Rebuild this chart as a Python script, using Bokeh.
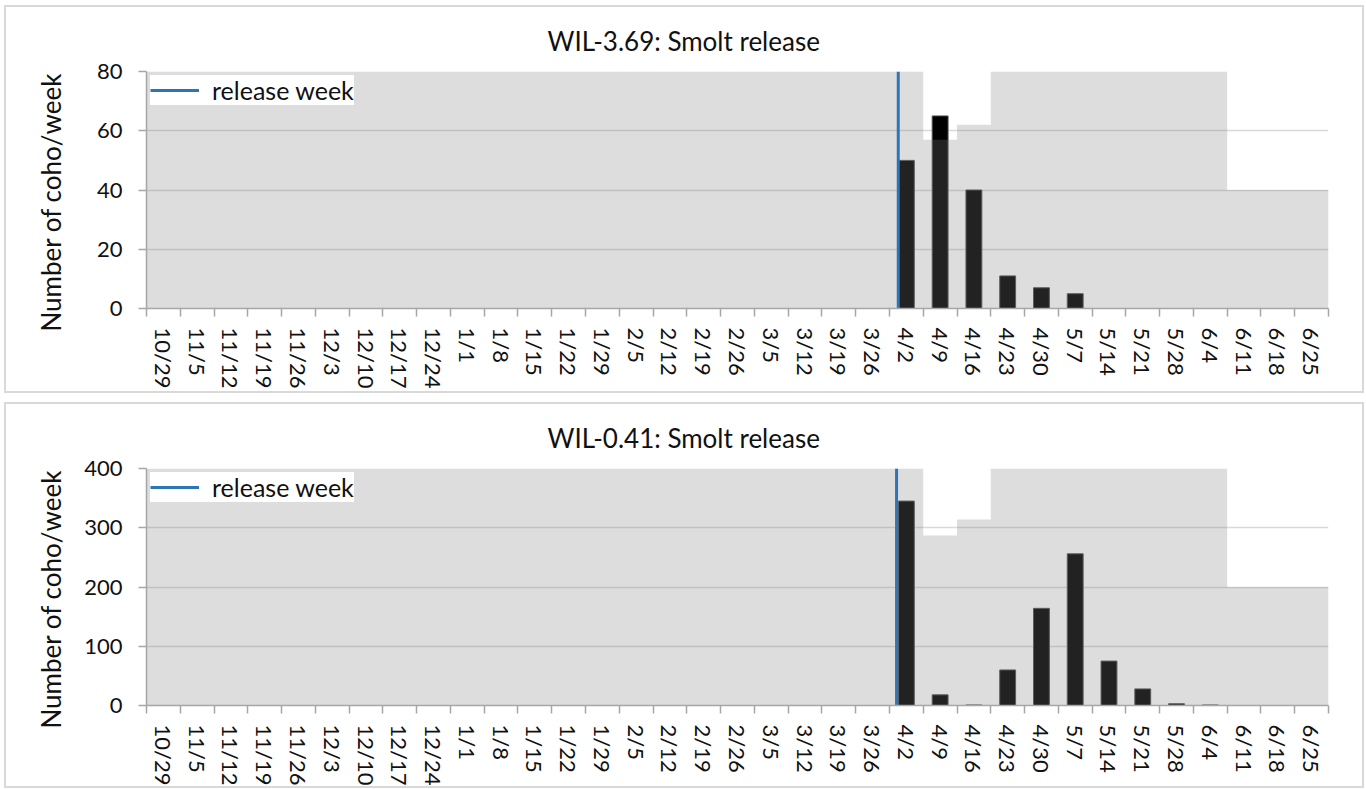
import numpy as np
from bokeh.plotting import figure
from bokeh.models import (Range1d, LinearAxis, FixedTicker, Legend, LegendItem,
                          Title, ColumnDataSource)
from bokeh.layouts import column
from bokeh.embed import file_html
from bokeh.resources import INLINE

# ---------------- data ----------------
weeks = ["10/29", "11/5", "11/12", "11/19", "11/26", "12/3", "12/10", "12/17",
         "12/24", "1/1", "1/8", "1/15", "1/22", "1/29", "2/5", "2/12", "2/19",
         "2/26", "3/5", "3/12", "3/19", "3/26", "4/2", "4/9", "4/16", "4/23",
         "4/30", "5/7", "5/14", "5/21", "5/28", "6/4", "6/11", "6/18", "6/25"]

release_week = "4/2"

top_title = "WIL-3.69: Smolt release"
top_counts = [0, 0, 0, 0, 0, 0, 0, 0, 0, 0, 0, 0, 0, 0, 0, 0, 0, 0, 0, 0, 0, 0,
              50, 65, 40, 11, 7, 5, 0, 0, 0, 0, 0, 0, 0]
top_effort = [80, 80, 80, 80, 80, 80, 80, 80, 80, 80, 80, 80, 80, 80, 80, 80,
              80, 80, 80, 80, 80, 80, 80, 57, 62, 80, 80, 80, 80, 80, 80, 80,
              40, 40, 40]
top_yticks = [0, 20, 40, 60, 80]

bot_title = "WIL-0.41: Smolt release"
bot_counts = [0, 0, 0, 0, 0, 0, 0, 0, 0, 0, 0, 0, 0, 0, 0, 0, 0, 0, 0, 0, 0, 0,
              345, 18, 1, 60, 164, 256, 75, 28, 3, 1, 0, 0, 0]
bot_effort = [400, 400, 400, 400, 400, 400, 400, 400, 400, 400, 400, 400, 400,
              400, 400, 400, 400, 400, 400, 400, 400, 400, 400, 287, 314, 400,
              400, 400, 400, 400, 400, 400, 200, 200, 200]
bot_yticks = [0, 100, 200, 300, 400]

y_label = "Number of coho/week"
legend_label = "release week"

# ---------------- style ----------------
FONT = "Lato"
TXT = "#111111"
AX = "#a6a6a6"
FS = "22px"


def make_panel(title, counts, effort, yticks, rel_shift, height, mb_top,
               mb_bottom, ylab_standoff):
    n = len(weeks)
    ymax = yticks[-1]
    centers = np.arange(n) + 0.5
    src = ColumnDataSource(dict(x=centers, week=weeks, count=counts))

    p = figure(width=1360, height=height, x_range=Range1d(0, n),
               y_range=Range1d(0, ymax), x_axis_type=None,
               output_backend="svg", toolbar_location=None,
               min_border_left=140, min_border_right=38,
               min_border_top=mb_top, min_border_bottom=mb_bottom,
               background_fill_color="white", border_fill_color="white",
               outline_line_color=None)
    p.styles = {"border": "2px solid #d9d9d9", "overflow": "hidden"}

    # counts
    p.vbar(x="x", top="count", bottom=0, width=0.47, source=src,
           fill_color="#000000", line_color="#505050", line_width=1)

    # trapping-effort overlay (semi-transparent grey)
    edges = np.arange(n + 1)
    p.varea_step(x=edges, y1=np.zeros(n + 1), y2=list(effort) + [effort[-1]],
                 step_mode="after", fill_color="#7f7f7f", fill_alpha=0.267)

    # release week line
    rx = weeks.index(release_week) + 0.5 + rel_shift
    rl = p.line(x=[rx, rx], y=[0, ymax], line_color="#2e75b6", line_width=3)

    # y axis
    ya = p.yaxis[0]
    ya.ticker = FixedTicker(ticks=yticks)
    ya.major_label_text_font = FONT
    ya.major_label_text_font_size = FS
    ya.major_label_text_color = TXT
    ya.axis_line_color = AX
    ya.axis_line_width = 1.5
    ya.major_tick_line_color = AX
    ya.major_tick_line_width = 1.5
    ya.major_tick_out = 8
    ya.major_tick_in = 0
    ya.minor_tick_line_color = None
    ya.major_label_standoff = 16
    p.ygrid.ticker = FixedTicker(ticks=yticks)
    p.ygrid.grid_line_color = "#d9d9d9"
    p.ygrid.grid_line_width = 1.3

    # x axis: ticks at category boundaries
    axa = LinearAxis(ticker=FixedTicker(ticks=list(range(n + 1))),
                     major_label_overrides={i: "" for i in range(n + 1)},
                     major_label_text_font_size="0px",
                     major_label_standoff=0,
                     axis_line_color=AX, axis_line_width=1.5,
                     major_tick_line_color=AX, major_tick_line_width=1.5,
                     major_tick_out=8, major_tick_in=0,
                     minor_tick_line_color=None)
    # x axis: labels at category centres
    axb = LinearAxis(ticker=FixedTicker(ticks=[float(c) for c in centers]),
                     major_label_overrides={float(c): w for c, w in zip(centers, weeks)},
                     major_label_orientation="vertical",
                     major_label_text_font=FONT, major_label_text_font_size=FS,
                     major_label_text_color=TXT,
                     major_label_standoff=11,
                     axis_line_color=None, major_tick_line_color=None,
                     major_tick_out=0, major_tick_in=0,
                     minor_tick_line_color=None)
    p.add_layout(axa, "below")
    p.add_layout(axb, "below")

    # legend
    leg = Legend(items=[LegendItem(label=legend_label, renderers=[rl])],
                 location="top_left", margin=4, padding=8, spacing=0,
                 glyph_width=49, glyph_height=24, label_height=24,
                 label_standoff=13,
                 label_text_font=FONT, label_text_font_size="25px",
                 label_text_color=TXT, background_fill_color="white",
                 background_fill_alpha=1.0, border_line_color=None)
    p.add_layout(leg)

    # chart title
    p.add_layout(Title(text=title, align="left", offset=401, standoff=30,
                       vertical_align="bottom", text_font=FONT,
                       text_font_size="26px", text_font_style="normal",
                       text_color=TXT), "above")
    # y axis title
    p.add_layout(Title(text=y_label, align="left", offset=-23,
                       standoff=ylab_standoff, vertical_align="middle",
                       text_font=FONT, text_font_size="26px",
                       text_font_style="normal", text_color=TXT), "left")
    return p


p1 = make_panel(top_title, top_counts, top_effort, top_yticks, -0.24,
                388, 64, 87, 51)
p2 = make_panel(bot_title, bot_counts, bot_effort, bot_yticks, -0.29,
                386, 64, 85, 27)

layout = column(p1, p2, spacing=9, margin=(5, 0, 0, 4))
open("out.html", "w").write(file_html(layout, INLINE))
